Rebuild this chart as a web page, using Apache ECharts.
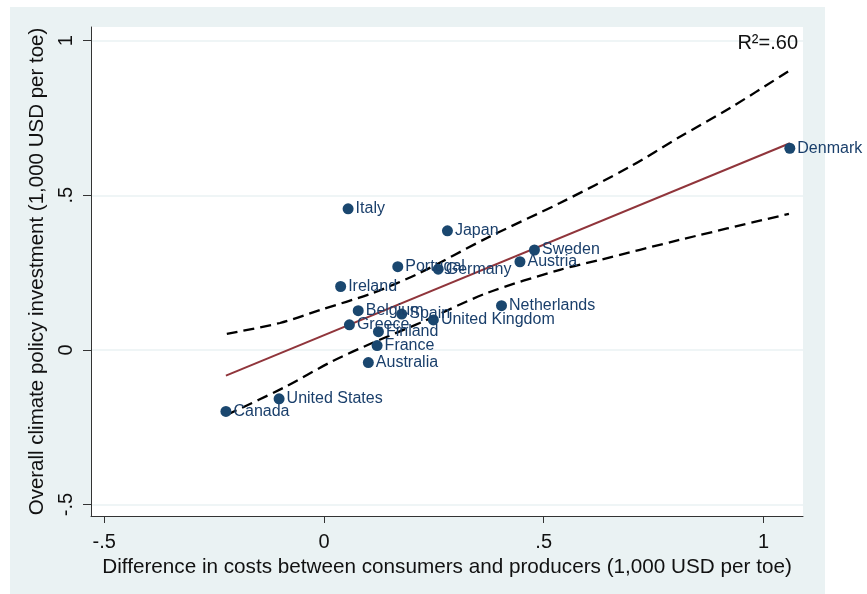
<!DOCTYPE html>
<html>
<head>
<meta charset="utf-8">
<title>Climate policy investment vs cost difference</title>
<script src="https://cdn.jsdelivr.net/npm/echarts@6/dist/echarts.min.js"></script>
<style>
    body { margin: 0; background: #fff; }
    /* 外框背景 (Stata graph region) */
    .panel { position: absolute; left: 10px; top: 7px; width: 815px; height: 587px; background: #eaf2f3; }
    #chart { position: absolute; left: 0; top: 0; width: 867px; height: 594px; }
</style>
</head>
<body>
<div class="panel"></div>
<div id="chart"></div>
<script>
    // 国家
    var countries = ['Denmark', 'Italy', 'Japan', 'Sweden', 'Austria', 'Portugal', 'Germany', 'Ireland',
        'Netherlands', 'Belgium', 'Spain', 'United Kingdom', 'Greece', 'Finland', 'France', 'Australia',
        'United States', 'Canada'];
    // 消费者与生产者成本差 (1,000 USD per toe)
    var costDiff = [1.060, 0.055, 0.281, 0.479, 0.446, 0.168, 0.260, 0.038,
        0.404, 0.078, 0.177, 0.249, 0.058, 0.124, 0.121, 0.101,
        -0.102, -0.223];
    // 气候政策投资 (1,000 USD per toe)
    var investment = [0.652, 0.456, 0.385, 0.323, 0.285, 0.269, 0.261, 0.205,
        0.143, 0.127, 0.116, 0.097, 0.081, 0.059, 0.014, -0.041,
        -0.158, -0.199];

    // 拟合线 (两端)
    var fitX = [-0.223, 1.060];
    var fitY = [-0.083, 0.668];

    // 置信区间 上/下
    var ciUpperX = [-0.221, -0.100, -0.009, 0.111, 0.218, 0.371, 0.537, 0.696, 0.810, 0.924, 1.058];
    var ciUpperY = [0.052, 0.087, 0.129, 0.184, 0.249, 0.362, 0.475, 0.592, 0.689, 0.782, 0.902];
    var ciLowerX = [-0.221, -0.093, 0.020, 0.111, 0.218, 0.371, 0.537, 0.628, 0.810, 1.058];
    var ciLowerY = [-0.210, -0.123, -0.036, 0.023, 0.087, 0.184, 0.259, 0.291, 0.356, 0.440];

    // 刻度
    var xTicks = [-0.5, 0, 0.5, 1];
    var yTicks = [-0.5, 0, 0.5, 1];

    function pairs(xs, ys) {
        return xs.map(function (x, i) { return [x, ys[i]]; });
    }

    // Stata 风格的刻度文字: -.5 0 .5 1
    function stataNum(v) {
        if (v === 0) return '0';
        var s = String(Math.abs(v)).replace(/^0\./, '.');
        return (v < 0 ? '-' : '') + s;
    }

    var font = '"Liberation Sans", Arial, sans-serif';
    var navy = '#1a476f';

    var points = countries.map(function (name, i) {
        return { name: name, value: [costDiff[i], investment[i]] };
    });

    var myChart = echarts.init(document.getElementById('chart'));
    myChart.setOption({
        animation: false,
        backgroundColor: 'transparent',
        textStyle: { fontFamily: font },
        title: {
            text: 'R²=.60',
            right: 64,
            top: 28,
            textStyle: { fontFamily: font, fontSize: 20, fontWeight: 'normal', color: '#111' }
        },
        grid: {
            left: 91,
            top: 27,
            width: 712,
            height: 489,
            show: true,
            backgroundColor: '#fff',
            borderWidth: 0
        },
        xAxis: {
            type: 'value',
            min: -0.53,
            max: 1.09,
            name: 'Difference in costs between consumers and producers (1,000 USD per toe)',
            nameLocation: 'middle',
            nameGap: 35,
            nameTextStyle: { fontFamily: font, fontSize: 20.7, color: '#111' },
            axisLine: { show: true, onZero: false, lineStyle: { color: '#333', width: 1 } },
            axisTick: { show: true, length: 7, customValues: xTicks, lineStyle: { color: '#333' } },
            axisLabel: {
                customValues: xTicks,
                formatter: stataNum,
                margin: 16,
                fontFamily: font,
                fontSize: 20,
                color: '#111'
            },
            splitLine: { show: false }
        },
        yAxis: {
            type: 'value',
            min: -0.537,
            max: 1.044,
            name: 'Overall climate policy investment (1,000 USD per toe)',
            nameLocation: 'middle',
            nameGap: 36,
            nameTextStyle: { fontFamily: font, fontSize: 20.5, color: '#111' },
            axisLine: { show: true, onZero: false, lineStyle: { color: '#333', width: 1 } },
            axisTick: { show: true, length: 8, customValues: yTicks, lineStyle: { color: '#333' } },
            axisLabel: {
                customValues: yTicks,
                formatter: stataNum,
                rotate: 90,
                margin: 15,
                fontFamily: font,
                fontSize: 20,
                color: '#111'
            },
            splitLine: { show: true, lineStyle: { color: '#eaf2f3', width: 1.5 } }
        },
        series: [
            {
                name: 'upper',
                type: 'line',
                data: pairs(ciUpperX, ciUpperY),
                symbol: 'none',
                smooth: 0.3,
                lineStyle: { color: '#000', width: 2.3, type: [11, 6] },
                z: 3
            },
            {
                name: 'lower',
                type: 'line',
                data: pairs(ciLowerX, ciLowerY),
                symbol: 'none',
                smooth: 0.3,
                lineStyle: { color: '#000', width: 2.3, type: [11, 6] },
                z: 3
            },
            {
                name: 'fit',
                type: 'line',
                data: pairs(fitX, fitY),
                symbol: 'none',
                lineStyle: { color: '#90353b', width: 2 },
                z: 4
            },
            {
                name: 'countries',
                type: 'scatter',
                data: points,
                symbol: 'circle',
                symbolSize: 11,
                itemStyle: { color: navy, opacity: 1 },
                label: {
                    show: true,
                    position: 'right',
                    distance: 2,
                    formatter: '{b}',
                    fontFamily: font,
                    fontSize: 16,
                    color: '#1a3f6b'
                },
                z: 5
            }
        ]
    });
</script>
</body>
</html>
